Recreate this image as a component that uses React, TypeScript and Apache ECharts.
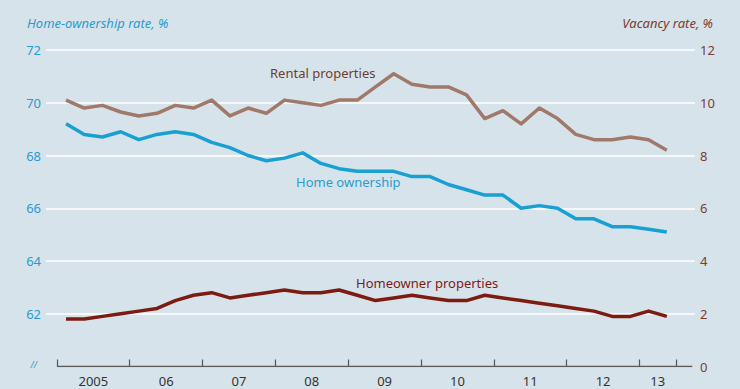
import React, { useEffect, useRef } from "react";
import * as echarts from "echarts";

// Quarterly data, 2005 Q1 .. 2013 Q2
const homeOwnership = [
  69.2, 68.8, 68.7, 68.9, 68.6, 68.8, 68.9, 68.8,
  68.5, 68.3, 68.0, 67.8, 67.9, 68.1, 67.7, 67.5,
  67.4, 67.4, 67.4, 67.2, 67.2, 66.9, 66.7, 66.5,
  66.5, 66.0, 66.1, 66.0, 65.6, 65.6, 65.3, 65.3,
  65.2, 65.1,
];
const rentalVacancy = [
  10.1, 9.8, 9.9, 9.65, 9.5, 9.6, 9.9, 9.8,
  10.1, 9.5, 9.8, 9.6, 10.1, 10.0, 9.9, 10.1,
  10.1, 10.6, 11.1, 10.7, 10.6, 10.6, 10.3, 9.4,
  9.7, 9.2, 9.8, 9.4, 8.8, 8.6, 8.6, 8.7,
  8.6, 8.2,
];
const homeownerVacancy = [
  1.8, 1.8, 1.9, 2.0, 2.1, 2.2, 2.5, 2.7,
  2.8, 2.6, 2.7, 2.8, 2.9, 2.8, 2.8, 2.9,
  2.7, 2.5, 2.6, 2.7, 2.6, 2.5, 2.5, 2.7,
  2.6, 2.5, 2.4, 2.3, 2.2, 2.1, 1.9, 1.9,
  2.1, 1.9,
];
const yearLabels = ["2005", "06", "07", "08", "09", "10", "11", "12", "13"];
const yearLabelPos = [2, 6, 10, 14, 18, 22, 26, 30, 33];
const yearTickPos = [0, 4, 8, 12, 16, 20, 24, 28, 32, 34];

const BG = "#d7e3ea";
const BLUE = "#19a0d3";
const BLUE_TXT = "#2a9bcc";
const RENTAL = "#a0796b";
const RENTAL_TXT = "#6f3c30";
const OWNER = "#7c1c10";
const RIGHT_TXT = "#7a3d30";
const FONT = "'Noto Sans', sans-serif";

export default function App() {
  const ref = useRef<HTMLDivElement>(null);
  useEffect(() => {
    if (!ref.current) return;
    const chart = echarts.init(ref.current, null, { renderer: "svg" });
    const pts = (arr: number[]) => arr.map((v, i) => [i + 0.5, v]);
    chart.setOption({
      animation: false,
      backgroundColor: BG,
      textStyle: { fontFamily: FONT },
      grid: { left: 46, right: 45, top: 50, bottom: 22.5 },
      xAxis: {
        type: "value",
        min: -0.6,
        max: 35.05,
        axisLine: { show: false },
        splitLine: { show: false },
        axisTick: {
          show: true,
          inside: true,
          length: 7,
          customValues: yearTickPos,
          lineStyle: { color: "#555", width: 1.2 },
        },
        axisLabel: {
          customValues: yearLabelPos,
          formatter: (v: number) => {
            const k = yearLabelPos.indexOf(Math.round(v));
            return k >= 0 ? yearLabels[k] : "";
          },
          color: "#333",
          fontSize: 13,
          lineHeight: 15,
          margin: 7,
          fontFamily: FONT,
        },
      },
      yAxis: [
        {
          type: "value",
          min: 60,
          max: 72,
          interval: 2,
          position: "left",
          axisLine: { show: false },
          axisTick: { show: false },
          splitLine: { show: true, showMinLine: false, lineStyle: { color: "#ffffff", width: 1.6 } },
          axisLabel: {
            color: BLUE_TXT,
            fontSize: 13,
            margin: 5,
            fontFamily: FONT,
            formatter: (v: number) => (v === 60 ? "{brk|//}" : String(v)),
            rich: { brk: { fontSize: 9, fontStyle: "italic", color: BLUE_TXT, padding: [0, 4, 4, 0] } },
          },
        },
        {
          type: "value",
          min: 0,
          max: 12,
          interval: 2,
          position: "right",
          axisLine: { show: false },
          axisTick: { show: false },
          splitLine: { show: false },
          axisLabel: { color: RIGHT_TXT, fontSize: 13, margin: 5, fontFamily: FONT },
        },
      ],
      series: [
        {
          name: "axis",
          type: "line",
          yAxisIndex: 0,
          data: [[0, 60], [34.9, 60]],
          symbol: "none",
          silent: true,
          lineStyle: { color: "#5a5a5a", width: 1.3 },
          z: 1,
        },
        {
          name: "Rental properties",
          type: "line",
          yAxisIndex: 1,
          data: pts(rentalVacancy),
          symbol: "none",
          lineStyle: { color: RENTAL, width: 3.5, join: "round" },
          z: 3,
        },
        {
          name: "Home ownership",
          type: "line",
          yAxisIndex: 0,
          data: pts(homeOwnership),
          symbol: "none",
          lineStyle: { color: BLUE, width: 3.5, join: "round" },
          z: 3,
        },
        {
          name: "Homeowner properties",
          type: "line",
          yAxisIndex: 1,
          data: pts(homeownerVacancy),
          symbol: "none",
          lineStyle: { color: OWNER, width: 3.5, join: "round" },
          z: 3,
        },
      ],
      graphic: [
        {
          type: "text",
          left: 27,
          top: 16,
          style: { text: "Home-ownership rate, %", fill: BLUE_TXT, fontSize: 13, fontStyle: "italic", fontFamily: FONT },
        },
        {
          type: "text",
          right: 27,
          top: 16,
          style: { text: "Vacancy rate, %", fill: RIGHT_TXT, fontSize: 13, fontStyle: "italic", fontFamily: FONT },
        },
        {
          type: "text",
          left: 270,
          top: 66,
          style: { text: "Rental properties", fill: RENTAL_TXT, fontSize: 13, fontFamily: FONT },
        },
        {
          type: "text",
          left: 296,
          top: 175,
          style: { text: "Home ownership", fill: BLUE_TXT, fontSize: 13, fontFamily: FONT },
        },
        {
          type: "text",
          left: 356,
          top: 276,
          style: { text: "Homeowner properties", fill: OWNER, fontSize: 13, fontFamily: FONT },
        },
      ],
    });
    return () => chart.dispose();
  }, []);
  return (
    <div
      ref={ref}
      style={{ position: "fixed", left: 0, top: 0, width: 740, height: 389 }}
    />
  );
}
